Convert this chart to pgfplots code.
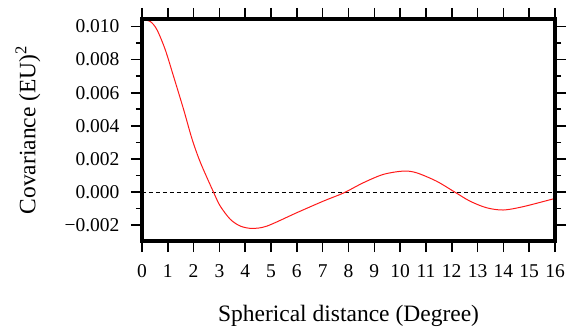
\documentclass[border=0pt]{standalone}
\usepackage{fontspec}
\setmainfont{Liberation Serif}
\usepackage{pgfplots}
\pgfplotsset{compat=1.18}
\begin{document}
\begin{tikzpicture}
\begin{axis}[
  name=ax,
  scale only axis, width=413pt, height=222pt,
  xmin=0, xmax=16, ymin=-0.00295, ymax=0.01045,
  xtick={0,1,...,16},
  ytick={-0.002,0,0.002,0.004,0.006,0.008,0.010},
  yticklabels={−0.002,0.000,0.002,0.004,0.006,0.008,0.010},
  minor ytick={-0.001,0.001,0.003,0.005,0.007,0.009},
  scaled y ticks=false,
  tick align=outside,
  major tick length=11pt, minor tick length=6pt,
  tick style={line width=1.6pt, black},
  ticklabel style={font=\fontsize{19.5}{22}\selectfont},
  xticklabel style={yshift=-9pt},
  yticklabel style={xshift=-8pt},
  /pgf/number format/assume math mode=true,
  label style={font=\fontsize{23.5}{26}\selectfont},
  xlabel={Spherical distance (Degree)},
  ylabel={Covariance (EU)\textsuperscript{2}},
  xlabel style={at={(axis description cs:0.5,-0.338)}, anchor=center},
  ylabel style={at={(axis description cs:-0.276,0.5)}, anchor=center},
]
\addplot[black, dashed, line width=1pt, dash pattern=on 4pt off 3pt, forget plot] coordinates {(0,0) (16,0)};
\addplot[red!90!white, line width=1pt, smooth] coordinates {
(0,0.01040) (0.32,0.01030) (0.58,0.00980) (0.90,0.00860) (1.22,0.00700)
(1.61,0.00500) (1.94,0.00320) (2.26,0.00180) (2.77,0.0) (3.03,-0.00084)
(3.42,-0.00164) (3.81,-0.00205) (4.26,-0.00219) (4.84,-0.00205) (6.0,-0.00124)
(7.03,-0.00054) (7.81,-0.00005) (8.58,0.00057) (9.35,0.00107) (10.12,0.00127)
(10.63,0.00117) (11.41,0.00066) (12.12,0.0) (12.70,-0.00054) (13.34,-0.00094)
(13.99,-0.00108) (14.76,-0.00088) (16,-0.00038)
};
\end{axis}
\draw[line width=3.2pt, black] ([shift={(0,0)}]ax.south west) rectangle (ax.north east);
\path[use as bounding box] ([shift={(-142pt,-89pt)}]ax.south west) rectangle ([shift={(21pt,19pt)}]ax.north east);
\end{tikzpicture}
\end{document}
